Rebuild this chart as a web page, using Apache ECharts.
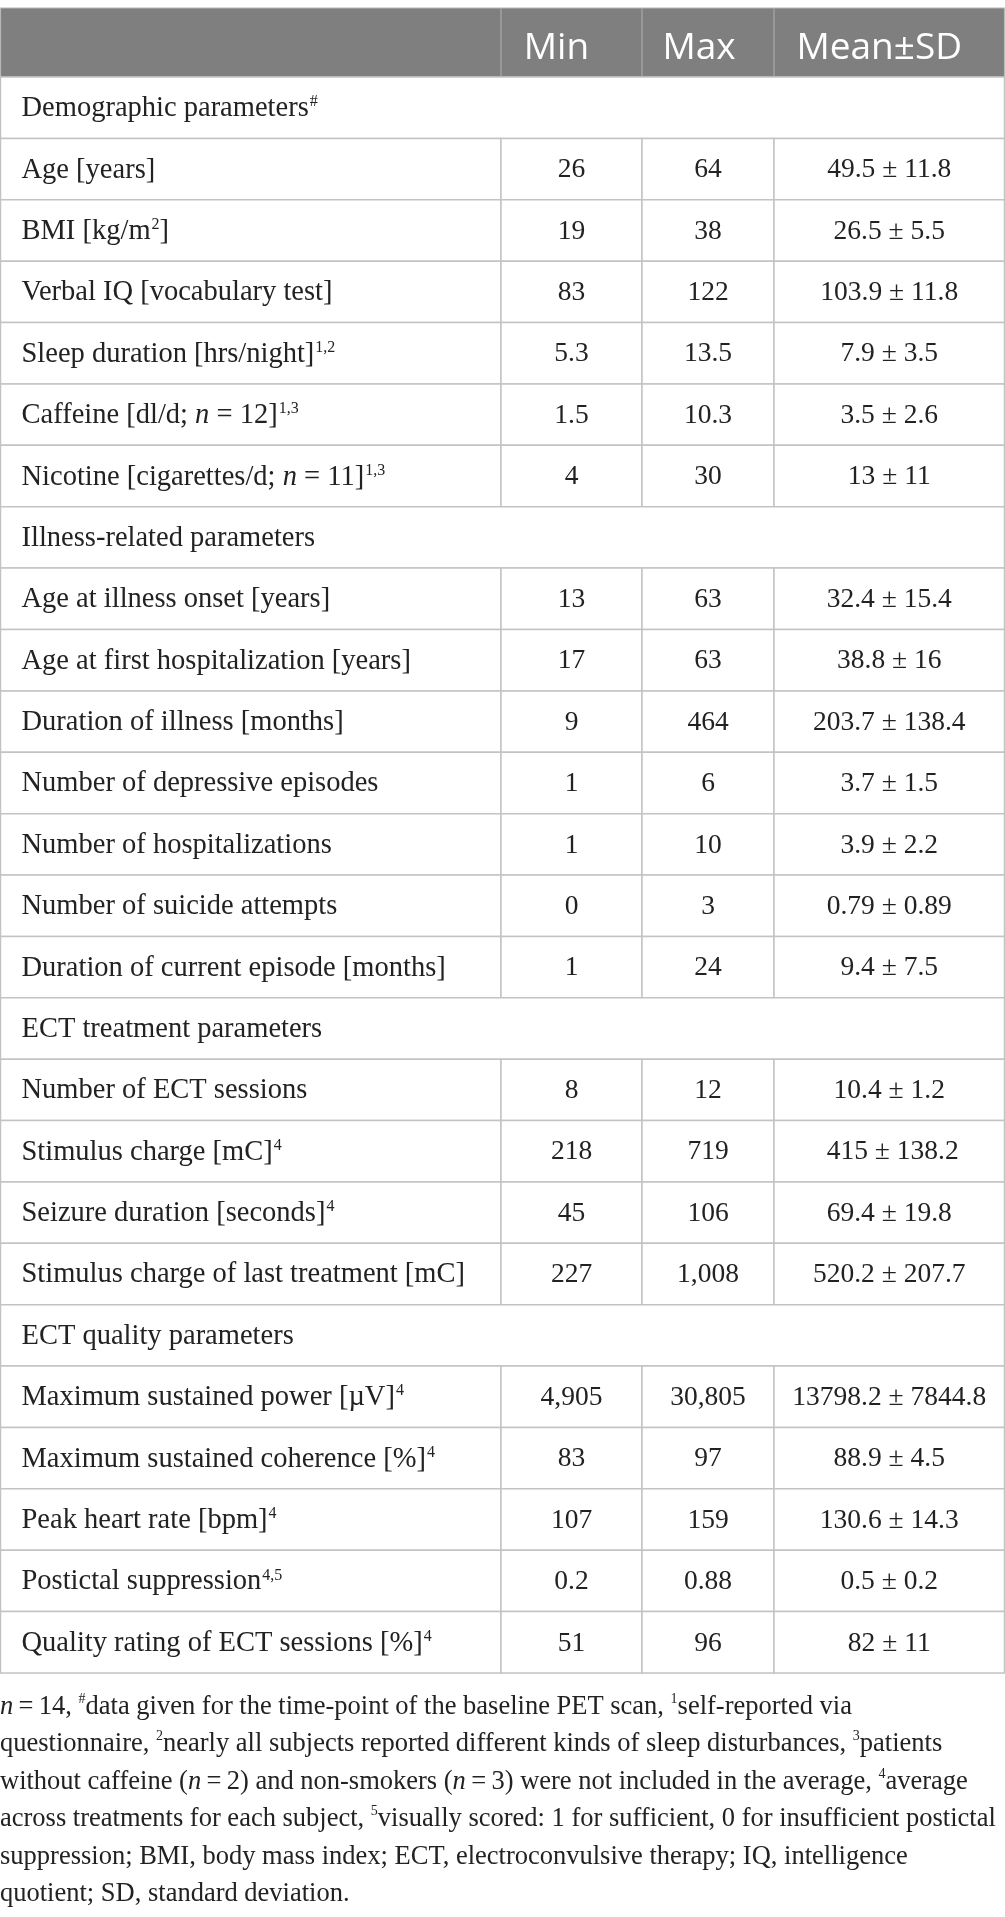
<!DOCTYPE html>
<html>
<head>
<meta charset="utf-8">
<script src="https://cdn.jsdelivr.net/npm/echarts@6/dist/echarts.min.js"></script>
<style>
html, body { margin: 0; padding: 0; background: #fff; }
#app { width: 1005px; height: 1917px; }
</style>
</head>
<body>
<div id="app"></div>
<script>
// table content
var headers = ['', 'Min', 'Max', 'Mean±SD'];

var rowLabels = [
    'Demographic parameters{sup|#}',
    'Age [years]',
    'BMI [kg/m{sup|2}]',
    'Verbal IQ [vocabulary test]',
    'Sleep duration [hrs/night]{sup|1,2}',
    'Caffeine [dl/d; {i|n} = 12]{sup|1,3}',
    'Nicotine [cigarettes/d; {i|n} = 11]{sup|1,3}',
    'Illness-related parameters',
    'Age at illness onset [years]',
    'Age at first hospitalization [years]',
    'Duration of illness [months]',
    'Number of depressive episodes',
    'Number of hospitalizations',
    'Number of suicide attempts',
    'Duration of current episode [months]',
    'ECT treatment parameters',
    'Number of ECT sessions',
    'Stimulus charge [mC]{sup|4}',
    'Seizure duration [seconds]{sup|4}',
    'Stimulus charge of last treatment [mC]',
    'ECT quality parameters',
    'Maximum sustained power [µV]{sup|4}',
    'Maximum sustained coherence [%]{sup|4}',
    'Peak heart rate [bpm]{sup|4}',
    'Postictal suppression{sup|4,5}',
    'Quality rating of ECT sessions [%]{sup|4}'
];

var sectionRows = [0, 7, 15, 20];

var minValues = ['', '26', '19', '83', '5.3', '1.5', '4',
    '', '13', '17', '9', '1', '1', '0', '1',
    '', '8', '218', '45', '227',
    '', '4,905', '83', '107', '0.2', '51'];

var maxValues = ['', '64', '38', '122', '13.5', '10.3', '30',
    '', '63', '63', '464', '6', '10', '3', '24',
    '', '12', '719', '106', '1,008',
    '', '30,805', '97', '159', '0.88', '96'];

var meanSdValues = ['', '49.5 ± 11.8', '26.5 ± 5.5', '103.9 ± 11.8', '7.9 ± 3.5', '3.5 ± 2.6', '13 ± 11',
    '', '32.4 ± 15.4', '38.8 ± 16', '203.7 ± 138.4', '3.7 ± 1.5', '3.9 ± 2.2', '0.79 ± 0.89', '9.4 ± 7.5',
    '', '10.4 ± 1.2', ' 415 ± 138.2', '69.4 ± 19.8', '520.2 ± 207.7',
    '', '13798.2 ± 7844.8', '88.9 ± 4.5', '130.6 ± 14.3', '0.5 ± 0.2', '82 ± 11'];

var footnoteLines = [
    '{i|n}\u2009=\u200914, {sup|#}data given for the time-point of the baseline PET scan, {sup|1}self-reported via',
    'questionnaire, {sup|2}nearly all subjects reported different kinds of sleep disturbances, {sup|3}patients',
    'without caffeine ({i|n}\u2009=\u20092) and non-smokers ({i|n}\u2009=\u20093) were not included in the average, {sup|4}average',
    'across treatments for each subject, {sup|5}visually scored: 1 for sufficient, 0 for insufficient postictal',
    'suppression; BMI, body mass index; ECT, electroconvulsive therapy; IQ, intelligence',
    'quotient; SD, standard deviation.'
];

// layout
var colEdges = [0.5, 501, 642, 774, 1004.5];
var headerShift = [0, -15, -9, -10];
var headerRows = 1.125;
var serif = '"Liberation Serif", "DejaVu Serif", serif';
var sans = '"Open Sans", "Noto Sans", sans-serif';
var gridColor = '#c3c3c3';

var richCell = {
    sup: { fontFamily: serif, fontSize: 16, verticalAlign: 'top', padding: [0, 0, 0, 1], fill: '#222' },
    i: { fontFamily: serif, fontSize: 28.5, fontStyle: 'italic', fill: '#222' }
};

function renderHeader(params, api) {
    var top = api.coord([0, -headerRows])[1];
    var bottom = api.coord([0, 0])[1];
    var xs = colEdges.map(function (e) { return api.coord([e, 0])[0]; });
    var children = [{
        type: 'rect',
        shape: { x: xs[0], y: top, width: xs[4] - xs[0], height: bottom - top },
        style: { fill: '#7f7f7f', stroke: '#b8b8b8', lineWidth: 1.2 }
    }];
    for (var c = 1; c < 4; c++) {
        children.push({
            type: 'line',
            shape: { x1: xs[c], y1: top, x2: xs[c], y2: bottom },
            style: { stroke: '#a9a9a9', lineWidth: 1.2 }
        });
        children.push({
            type: 'text',
            style: {
                text: headers[c],
                x: (xs[c] + xs[c + 1]) / 2 + headerShift[c],
                y: (top + bottom) / 2 + 6,
                align: 'center',
                verticalAlign: 'middle',
                fontFamily: sans,
                fontSize: 37,
                fill: '#ffffff'
            }
        });
    }
    return { type: 'group', children: children };
}

function renderRow(params, api) {
    var r = api.value(0);
    var top = api.coord([0, r])[1];
    var bottom = api.coord([0, r + 1])[1];
    var mid = (top + bottom) / 2;
    var xs = colEdges.map(function (e) { return api.coord([e, 0])[0]; });
    var isSection = sectionRows.indexOf(r) >= 0;
    var children = [];
    var cells = isSection ? [[xs[0], xs[4]]] : [[xs[0], xs[1]], [xs[1], xs[2]], [xs[2], xs[3]], [xs[3], xs[4]]];
    cells.forEach(function (cell) {
        children.push({
            type: 'rect',
            shape: { x: cell[0], y: top, width: cell[1] - cell[0], height: bottom - top },
            style: { fill: '#fff', stroke: gridColor, lineWidth: 1.5 }
        });
    });
    children.push({
        type: 'text',
        style: {
            text: rowLabels[r],
            x: xs[0] + 21,
            y: mid + 1,
            align: 'left',
            verticalAlign: 'middle',
            fontFamily: serif,
            fontSize: 28.5,
            fill: '#222',
            rich: richCell
        }
    });
    if (!isSection) {
        [minValues[r], maxValues[r], meanSdValues[r]].forEach(function (v, k) {
            children.push({
                type: 'text',
                style: {
                    text: v,
                    x: (xs[k + 1] + xs[k + 2]) / 2,
                    y: mid + 1,
                    align: 'center',
                    verticalAlign: 'middle',
                    fontFamily: serif,
                    fontSize: 27.5,
                    fill: '#222'
                }
            });
        });
    }
    return { type: 'group', children: children };
}

var myChart = echarts.init(document.getElementById('app'));

var option = {
    animation: false,
    title: {
        text: footnoteLines.join('\n'),
        left: 0,
        top: 1688,
        padding: 0,
        textStyle: {
            fontFamily: serif,
            fontSize: 26.5,
            fontWeight: 'normal',
            color: '#222',
            lineHeight: 37.5,
            rich: {
                sup: { fontFamily: serif, fontSize: 14, verticalAlign: 'top', lineHeight: 37.5, padding: [4, 0, 0, 0], color: '#222' },
                i: { fontFamily: serif, fontSize: 26.5, fontStyle: 'italic', lineHeight: 37.5, color: '#222' }
            }
        }
    },
    grid: { left: 0, right: 0, top: 8, height: 1665 },
    xAxis: { type: 'value', min: 0, max: 1005, show: false },
    yAxis: { type: 'value', min: -headerRows, max: rowLabels.length, inverse: true, show: false },
    series: [
        {
            type: 'custom',
            name: 'header',
            renderItem: renderHeader,
            data: [[-1]],
            silent: true
        },
        {
            type: 'custom',
            name: 'rows',
            renderItem: renderRow,
            data: rowLabels.map(function (label, i) { return [i]; }),
            silent: true
        }
    ]
};

myChart.setOption(option);
</script>
</body>
</html>
